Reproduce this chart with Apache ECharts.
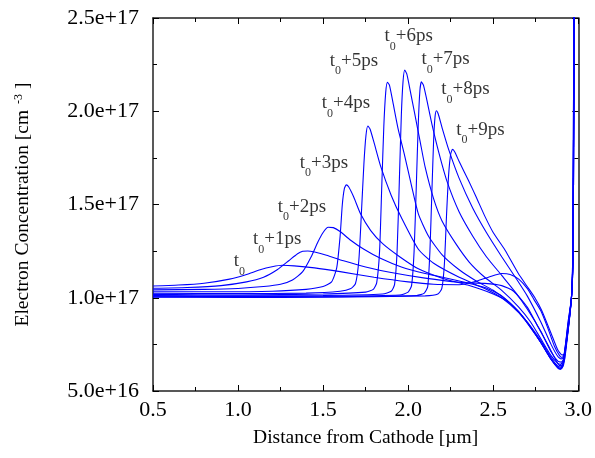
<!DOCTYPE html>
<html>
<head>
<meta charset="utf-8">
<script src="https://cdn.jsdelivr.net/npm/echarts@6/dist/echarts.min.js"></script>
<style>
html,body{margin:0;padding:0;background:#fff;}
#chart{width:595px;height:458px;}
</style>
</head>
<body>
<div id="chart"></div>
<script>
// Units: x in µm, y in 1e17 cm^-3
const curveNames = ['t0','t0+1ps','t0+2ps','t0+3ps','t0+4ps','t0+5ps','t0+6ps','t0+7ps','t0+8ps','t0+9ps'];

const c0 = [[0.5,1.063],[0.65,1.068],[0.8,1.078],[0.95,1.10],[1.05,1.125],[1.13,1.15],[1.2,1.166],[1.26,1.174],[1.33,1.171],[1.45,1.16],[1.6,1.14],[1.8,1.11],[2.0,1.085],[2.15,1.072],[2.3,1.07],[2.4,1.088],[2.48,1.113],[2.55,1.13],[2.6,1.125],[2.65,1.10],[2.7,1.05],[2.74,0.99],[2.78,0.93],[2.82,0.84],[2.86,0.74],[2.89,0.69],[2.905,0.68],[2.92,0.70],[2.945,0.86],[2.96,1.0],[2.969,1.2],[2.973,1.8],[2.977,2.7]];
const c1 = [[0.5,1.051],[0.7,1.055],[0.9,1.065],[1.05,1.085],[1.15,1.11],[1.23,1.15],[1.3,1.2],[1.35,1.236],[1.38,1.249],[1.41,1.251],[1.45,1.245],[1.52,1.228],[1.62,1.198],[1.75,1.165],[1.9,1.135],[2.1,1.105],[2.3,1.083],[2.45,1.077],[2.55,1.065],[2.62,1.035],[2.7,0.95],[2.76,0.85],[2.82,0.75],[2.86,0.68],[2.89,0.636],[2.905,0.64],[2.92,0.67],[2.945,0.86],[2.96,1.0],[2.968,1.2],[2.972,1.8],[2.976,2.7]];
const c2 = [[0.5,1.042],[0.8,1.045],[1.0,1.05],[1.15,1.06],[1.25,1.072],[1.32,1.095],[1.38,1.14],[1.43,1.22],[1.47,1.3],[1.5,1.35],[1.53,1.378],[1.56,1.376],[1.6,1.355],[1.66,1.31],[1.74,1.26],[1.84,1.21],[1.96,1.165],[2.1,1.13],[2.3,1.09],[2.45,1.055],[2.55,1.01],[2.65,0.925],[2.72,0.84],[2.78,0.76],[2.84,0.67],[2.88,0.625],[2.9,0.62],[2.915,0.645],[2.94,0.83],[2.96,1.0],[2.967,1.2],[2.971,1.8],[2.975,2.7]];
const c3 = [[0.5,1.032],[0.9,1.032],[1.2,1.035],[1.4,1.045],[1.5,1.06],[1.55,1.085],[1.58,1.16],[1.6,1.33],[1.613,1.5],[1.625,1.585],[1.636,1.605],[1.65,1.595],[1.68,1.54],[1.72,1.45],[1.78,1.36],[1.85,1.29],[1.95,1.22],[2.06,1.155],[2.2,1.105],[2.35,1.068],[2.5,1.02],[2.6,0.97],[2.7,0.87],[2.78,0.76],[2.84,0.67],[2.88,0.622],[2.895,0.616],[2.91,0.635],[2.94,0.83],[2.96,1.0],[2.968,1.2],[2.972,1.8],[2.976,2.7]];
const c4 = [[0.5,1.024],[1.0,1.022],[1.4,1.025],[1.6,1.035],[1.66,1.048],[1.69,1.075],[1.71,1.2],[1.725,1.45],[1.74,1.72],[1.752,1.87],[1.763,1.921],[1.776,1.905],[1.8,1.83],[1.84,1.70],[1.9,1.55],[1.96,1.43],[2.06,1.26],[2.15,1.185],[2.3,1.11],[2.45,1.05],[2.55,1.0],[2.65,0.92],[2.72,0.84],[2.78,0.76],[2.84,0.67],[2.88,0.627],[2.895,0.622],[2.91,0.64],[2.94,0.83],[2.96,1.0],[2.969,1.2],[2.973,1.8],[2.977,2.7]];
const c5 = [[0.5,1.018],[1.0,1.015],[1.5,1.02],[1.75,1.03],[1.795,1.045],[1.815,1.08],[1.832,1.25],[1.845,1.6],[1.857,1.92],[1.868,2.1],[1.878,2.155],[1.89,2.14],[1.91,2.05],[1.94,1.91],[1.98,1.76],[2.02,1.60],[2.06,1.45],[2.12,1.33],[2.2,1.23],[2.3,1.15],[2.4,1.09],[2.5,1.04],[2.6,0.97],[2.7,0.87],[2.78,0.77],[2.84,0.68],[2.88,0.633],[2.895,0.628],[2.91,0.645],[2.94,0.84],[2.96,1.0],[2.968,1.2],[2.972,1.8],[2.976,2.7]];
const c6 = [[0.5,1.012],[1.0,1.01],[1.5,1.012],[1.85,1.02],[1.9,1.035],[1.92,1.07],[1.935,1.25],[1.948,1.62],[1.96,1.98],[1.97,2.16],[1.98,2.221],[1.992,2.2],[2.01,2.12],[2.04,1.98],[2.07,1.84],[2.1,1.70],[2.15,1.53],[2.2,1.41],[2.28,1.29],[2.36,1.19],[2.45,1.11],[2.55,1.04],[2.65,0.95],[2.72,0.87],[2.78,0.78],[2.84,0.69],[2.88,0.648],[2.895,0.643],[2.91,0.66],[2.94,0.85],[2.96,1.0],[2.967,1.2],[2.971,1.8],[2.975,2.7]];
const c7 = [[0.5,1.008],[1.0,1.006],[1.5,1.008],[1.95,1.015],[2.0,1.03],[2.02,1.065],[2.035,1.25],[2.048,1.6],[2.059,1.92],[2.069,2.11],[2.078,2.158],[2.09,2.14],[2.11,2.06],[2.14,1.93],[2.18,1.78],[2.23,1.62],[2.3,1.46],[2.38,1.33],[2.46,1.22],[2.55,1.12],[2.63,1.03],[2.7,0.94],[2.78,0.82],[2.84,0.71],[2.88,0.66],[2.9,0.655],[2.915,0.67],[2.94,0.86],[2.96,1.0],[2.969,1.2],[2.973,1.8],[2.977,2.7]];
const c8 = [[0.5,1.005],[1.0,1.004],[1.5,1.005],[2.05,1.012],[2.095,1.025],[2.115,1.06],[2.128,1.25],[2.14,1.58],[2.15,1.85],[2.158,1.97],[2.166,2.003],[2.177,1.985],[2.2,1.91],[2.24,1.79],[2.3,1.64],[2.38,1.48],[2.46,1.35],[2.55,1.22],[2.63,1.11],[2.7,1.01],[2.78,0.87],[2.84,0.75],[2.88,0.685],[2.9,0.672],[2.915,0.68],[2.94,0.87],[2.96,1.0],[2.968,1.2],[2.972,1.8],[2.976,2.7]];
const c9 = [[0.5,1.003],[1.0,1.002],[1.5,1.003],[2.1,1.01],[2.175,1.02],[2.198,1.05],[2.213,1.18],[2.226,1.45],[2.238,1.66],[2.25,1.77],[2.261,1.796],[2.275,1.78],[2.3,1.73],[2.354,1.63],[2.4,1.54],[2.452,1.435],[2.5,1.35],[2.569,1.256],[2.647,1.131],[2.7,1.06],[2.745,1.0],[2.784,0.934],[2.84,0.81],[2.88,0.72],[2.905,0.693],[2.92,0.70],[2.945,0.88],[2.96,1.0],[2.969,1.2],[2.973,1.8],[2.977,2.7]];
const curves = [c0,c1,c2,c3,c4,c5,c6,c7,c8,c9];

// label anchors (x µm, y 1e17) and label suffixes
const labelSuffix = ['', '+1ps', '+2ps', '+3ps', '+4ps', '+5ps', '+6ps', '+7ps', '+8ps', '+9ps'];
const labelPos = [[1.008,1.176],[1.230,1.294],[1.376,1.470],[1.505,1.706],[1.634,2.023],[1.681,2.253],[2.003,2.382],[2.220,2.259],[2.337,2.098],[2.425,1.883]];

const xTicks = [0.5, 1.0, 1.5, 2.0, 2.5, 3.0];
const yTicks = [5e16, 1e17, 1.5e17, 2e17, 2.5e17];
const SCALE = 1e17;

const FONT = "'Liberation Serif','Times New Roman',serif";
const chart = echarts.init(document.getElementById('chart'), null, {renderer:'canvas'});

const series = curves.map((c, i) => ({
  name: curveNames[i],
  type: 'line',
  data: c.map(p => [p[0], p[1]*SCALE]),
  showSymbol: false,
  smooth: 0.2,
  clip: true,
  silent: true,
  lineStyle: {color: '#0000ff', width: 1.1},
  z: 2
}));

series.push({
  type: 'scatter',
  silent: true,
  symbolSize: 0,
  data: labelPos.map((p, i) => ({value: [p[0], p[1]*SCALE], suffix: labelSuffix[i]})),
  label: {
    show: true,
    position: 'inside',
    formatter: (params) => '{t|t}{s|0}{n|' + params.data.suffix + '}',
    rich: {
      t: {fontFamily: FONT, fontSize: 19, color: '#000', lineHeight: 26, verticalAlign: 'top'},
      s: {fontFamily: FONT, fontSize: 12, color: '#000', lineHeight: 12, verticalAlign: 'bottom'},
      n: {fontFamily: FONT, fontSize: 19, color: '#000', lineHeight: 26, verticalAlign: 'top'}
    }
  },
  z: 5
});

const tickStyle = {inside: true, length: 6, lineStyle: {color: '#000', width: 1}};
const minorStyle = {show: true, splitNumber: 2, length: 4, lineStyle: {color: '#000', width: 1}};

chart.setOption({
  animation: false,
  backgroundColor: '#fff',
  grid: {left: 153, right: 15, top: 18, bottom: 67, containLabel: false},
  xAxis: [{
    type: 'value', min: 0.5, max: 3.0, interval: 0.5,
    name: 'Distance from Cathode [µm]',
    nameLocation: 'middle', nameGap: 37,
    nameTextStyle: {fontFamily: FONT, fontSize: 19.5, color: '#000'},
    axisLine: {show: true, onZero: false, lineStyle: {color: '#222', width: 1.5}},
    axisTick: tickStyle,
    minorTick: minorStyle,
    splitLine: {show: false},
    axisLabel: {fontFamily: FONT, fontSize: 22, color: '#000', margin: 8,
      formatter: v => v.toFixed(1)}
  }, {
    type: 'value', position: 'top', min: 0.5, max: 3.0, interval: 0.5,
    axisLine: {show: true, onZero: false, lineStyle: {color: '#222', width: 1.5}},
    axisTick: tickStyle, minorTick: minorStyle,
    splitLine: {show: false}, axisLabel: {show: false}
  }],
  yAxis: [{
    type: 'value', min: 5e16, max: 2.5e17, interval: 5e16,
    name: 'Electron Concentration [cm{sup|  -3} ]',
    nameLocation: 'middle', nameGap: 120, nameRotate: 90,
    nameTextStyle: {fontFamily: FONT, fontSize: 19.5, color: '#000',
      rich: {sup: {fontFamily: FONT, fontSize: 12, color: '#000', verticalAlign: 'top', lineHeight: 10}}},
    axisLine: {show: true, onZero: false, lineStyle: {color: '#222', width: 1.5}},
    axisTick: tickStyle, minorTick: minorStyle,
    splitLine: {show: false},
    axisLabel: {fontFamily: FONT, fontSize: 22, color: '#000', margin: 14,
      formatter: v => v.toExponential(1)}
  }, {
    type: 'value', position: 'right', min: 5e16, max: 2.5e17, interval: 5e16,
    axisLine: {show: true, onZero: false, lineStyle: {color: '#222', width: 1.5}},
    axisTick: tickStyle, minorTick: minorStyle,
    splitLine: {show: false}, axisLabel: {show: false}
  }],
  series: series
});
</script>
</body>
</html>
